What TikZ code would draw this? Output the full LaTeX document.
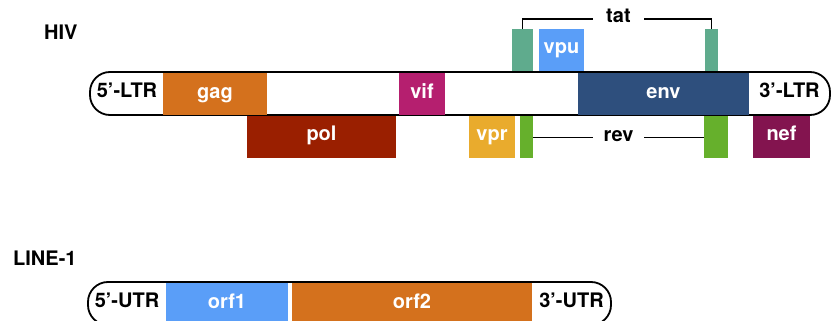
\documentclass[tikz,border=0pt]{standalone}
\usepackage{fontspec}
\setmainfont{TeX Gyre Heros}
\begin{document}
\begin{tikzpicture}[x=1pt,y=-1pt,
  genefont/.style={font=\bfseries\fontsize{20}{20}\selectfont, text height=0.78em, text depth=0pt},
  gene/.style={genefont, inner sep=0pt, text=white, draw=none, minimum height=#1},
  gene/.default=42.5pt,
  tag/.style={genefont, inner sep=0pt, text=black},
  bar/.style={draw=black, line width=1.8pt, rounded corners=20pt},
  link/.style={draw=black, line width=1.5pt}]
\definecolor{cgag}{HTML}{D4711D}
\definecolor{cpol}{HTML}{9A1F00}
\definecolor{cvif}{HTML}{B51F6F}
\definecolor{cenv}{HTML}{2E4F7D}
\definecolor{ctat}{HTML}{5FAB8D}
\definecolor{cvpu}{HTML}{5A9EF8}
\definecolor{cvpr}{HTML}{E9AB2D}
\definecolor{crev}{HTML}{66B02C}
\definecolor{cnef}{HTML}{83144F}

\useasboundingbox (0,0) rectangle (831,321);
\clip (0,0) rectangle (831,321);

% ---------------- HIV genome ----------------
\node[tag, anchor=west] (hiv) at (44,36) {HIV};
\draw[bar] (90,72) rectangle (830,115);

\node[gene, fill=cgag, minimum width=104pt] (gag) at (215,94.25) {gag};
\node[gene, fill=cvif, minimum width=46pt] (vif) at (422,94.25) {vif};
\node[gene, fill=cenv, minimum width=171pt] (env) at (663.5,94.25) {env};

\node[gene=42pt, fill=cpol, minimum width=149pt] (pol) at (321.5,137) {pol};
\node[gene=42pt, fill=cvpr, minimum width=46pt] (vpr) at (492,137) {vpr};
\node[gene=42pt, fill=crev, minimum width=13pt] (rev1) at (526.5,137) {};
\node[gene=42pt, fill=crev, minimum width=24pt] (rev2) at (716,137) {};
\node[gene=42pt, fill=cnef, minimum width=57pt] (nef) at (781.5,137) {nef};

\node[gene=42pt, fill=ctat, minimum width=21pt] (tat1) at (522.5,50) {};
\node[gene=42pt, fill=cvpu, minimum width=45pt] (vpu) at (561.5,50) {vpu};
\node[gene=42pt, fill=ctat, minimum width=13pt] (tat2) at (711.5,50) {};

\node[tag] (ltr5) at (127,94) {5’-LTR};
\node[tag] (ltr3) at (789.5,94) {3’-LTR};

% spliced exons joined through their labels
\node[tag, minimum width=51pt] (tatlbl) at (618.5,19) {tat};
\draw[link] (tat1.north) |- (tatlbl.west);
\draw[link] (tatlbl.east) -| (tat2.north);

\node[tag, minimum width=51pt] (revlbl) at (618.5,137.5) {rev};
\draw[link] (rev1.east |- revlbl.west) -- (revlbl.west);
\draw[link] (revlbl.east) -- (rev2.west |- revlbl.east);

% ---------------- LINE-1 element ----------------
\node[tag, anchor=west] (line1) at (13,262) {LINE-1};
\draw[bar] (88,282) rectangle (611,325);
\node[gene, fill=cvpu, minimum width=122pt] (orf1) at (227,304.25) {orf1};
\node[gene, fill=cgag, minimum width=240pt] (orf2) at (412,304.25) {orf2};
\node[tag] (utr5) at (127,304) {5’-UTR};
\node[tag] (utr3) at (571.5,304) {3’-UTR};
\end{tikzpicture}
\end{document}
